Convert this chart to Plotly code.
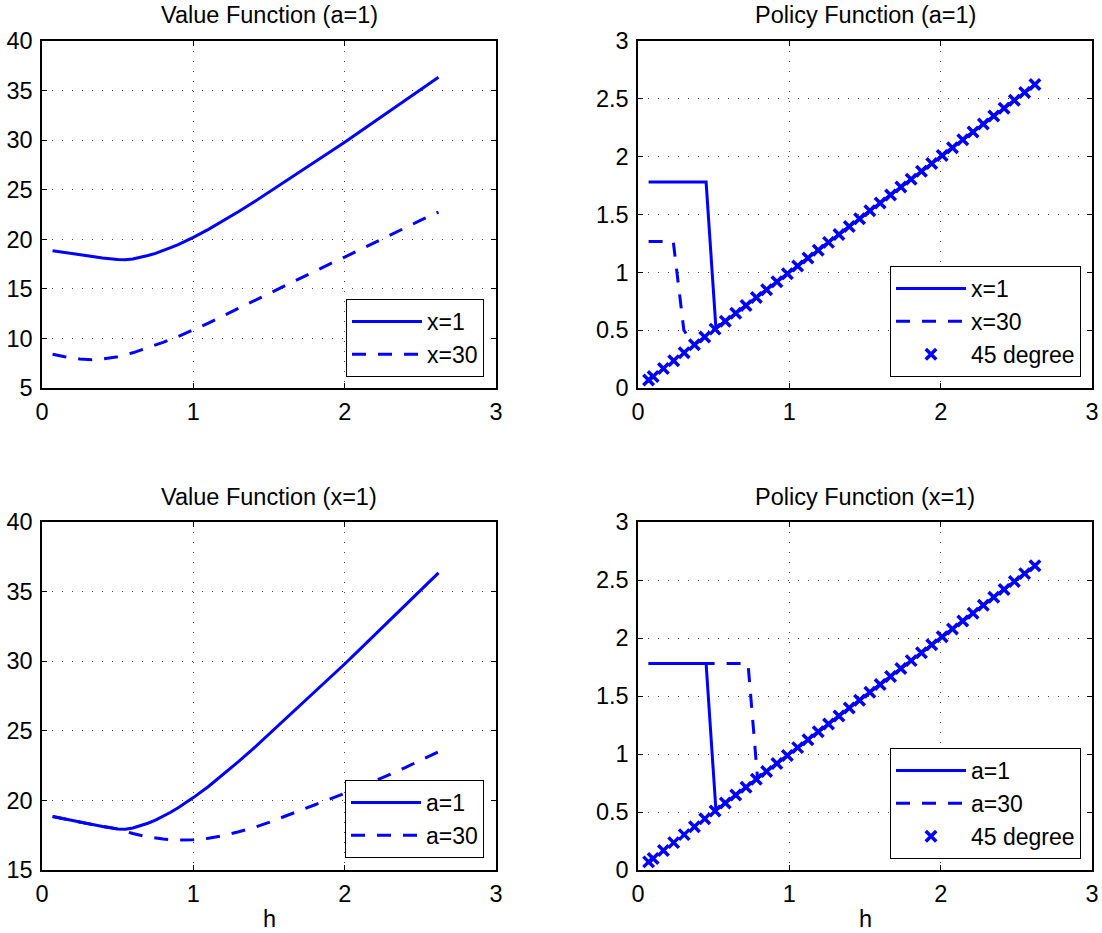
import plotly.graph_objects as go

# ---------------- data ----------------
# Value function, a=1 (x=1 / a=1 are the same series)
h_v1 = [0.07, 0.2, 0.3, 0.4, 0.5, 0.55, 0.6, 0.65, 0.7, 0.75, 0.8, 0.85, 0.9, 0.95,
        1.0, 1.1, 1.2, 1.3, 1.4, 1.5, 1.6, 1.7, 1.8, 1.9, 2.0, 2.1, 2.2, 2.3, 2.4,
        2.5, 2.62]
v_x1 = [18.85, 18.55, 18.33, 18.12, 17.95, 17.93, 18.02, 18.17, 18.36, 18.58, 18.85,
        19.15, 19.47, 19.82, 20.2, 21.0, 21.88, 22.8, 23.75, 24.75, 25.75, 26.75,
        27.78, 28.8, 29.8, 30.85, 31.9, 32.95, 34.0, 35.1, 36.35]

h_v30 = [0.07, 0.15, 0.25, 0.33, 0.4, 0.5, 0.6, 0.7, 0.8, 0.9, 1.0, 1.1, 1.2, 1.3, 1.4,
         1.5, 1.6, 1.7, 1.8, 1.9, 2.0, 2.1, 2.2, 2.3, 2.4, 2.5, 2.62]
v_x30 = [8.4, 8.15, 7.92, 7.85, 7.92, 8.15, 8.55, 9.05, 9.6, 10.2, 10.85, 11.55, 12.3,
         13.05, 13.8, 14.55, 15.3, 16.05, 16.75, 17.5, 18.2, 18.95, 19.7, 20.4, 21.15,
         21.9, 22.75]

h_va30 = [0.07, 0.3, 0.5, 0.6, 0.7, 0.8, 0.9, 1.0, 1.1, 1.2, 1.3, 1.4, 1.5, 1.6, 1.7,
          1.8, 1.9, 2.0, 2.1, 2.2, 2.3, 2.4, 2.5, 2.62]
v_a30 = [18.85, 18.33, 17.95, 17.62, 17.38, 17.22, 17.15, 17.18, 17.28, 17.48, 17.75,
         18.05, 18.42, 18.82, 19.25, 19.67, 20.08, 20.5, 20.95, 21.4, 21.85, 22.35,
         22.88, 23.5]

# Policy functions (polyline vertices)
h_p1 = [0.07, 0.45, 0.515, 2.62]
p_x1 = [1.78, 1.78, 0.515, 2.62]

h_p30 = [0.07, 0.233, 0.303, 0.37, 2.62]
p_x30 = [1.267, 1.267, 0.50, 0.37, 2.62]

h_pa30 = [0.07, 0.727, 0.79, 2.62]
p_a30 = [1.78, 1.78, 0.79, 2.62]

# 45 degree line (grid points)
h_grid = [0.07, 0.100, 0.168, 0.236, 0.305, 0.373, 0.441, 0.509, 0.577, 0.646, 0.714,
          0.782, 0.850, 0.918, 0.987, 1.055, 1.123, 1.191, 1.259, 1.328, 1.396, 1.464,
          1.532, 1.600, 1.669, 1.737, 1.805, 1.873, 1.941, 2.010, 2.078, 2.146, 2.214,
          2.282, 2.351, 2.419, 2.487, 2.555, 2.623]
deg45 = h_grid  # 45 degree line: y equals h

titles = ["Value Function (a=1)", "Policy Function (a=1)",
          "Value Function (x=1)", "Policy Function (x=1)"]
xticks = [0, 1, 2, 3]
yticks_v_top = [5, 10, 15, 20, 25, 30, 35, 40]
yticks_v_bot = [15, 20, 25, 30, 35, 40]
yticks_p = [0, 0.5, 1, 1.5, 2, 2.5, 3]

# ---------------- layout geometry ----------------
W, H = 1102, 933
BLUE = "#0000FF"
FONT = "Liberation Sans, Arial, Helvetica, sans-serif"
FS = 23.5
LFS = 23
DASH = "14px,12px"

def px_x(p):
    return p / W

def px_y(p):
    return 1 - p / H

colL = [px_x(42), px_x(496)]
colR = [px_x(638), px_x(1092)]
rowT = [px_y(388), px_y(41)]
rowB = [px_y(870), px_y(522)]

fig = go.Figure()

def line(x, y, name, dash, xa, ya, leg):
    fig.add_trace(go.Scatter(x=x, y=y, name=name, mode="lines",
                             line=dict(color=BLUE, width=3, dash=dash),
                             xaxis=xa, yaxis=ya, legend=leg))

def marks(x, y, name, xa, ya, leg):
    fig.add_trace(go.Scatter(x=x, y=y, name=name, mode="markers",
                             marker=dict(symbol="x-thin", size=10.5, color=BLUE,
                                         line=dict(color=BLUE, width=3.5)),
                             xaxis=xa, yaxis=ya, legend=leg))

# panel 1
line(h_v1, v_x1, "x=1", "solid", "x", "y", "legend")
line(h_v30, v_x30, "x=30", DASH, "x", "y", "legend")
# panel 2
line(h_p1, p_x1, "x=1", "solid", "x2", "y2", "legend2")
line(h_p30, p_x30, "x=30", DASH, "x2", "y2", "legend2")
marks(h_grid, deg45, "45 degree", "x2", "y2", "legend2")
# panel 3
line(h_v1, v_x1, "a=1", "solid", "x3", "y3", "legend3")
line(h_va30, v_a30, "a=30", DASH, "x3", "y3", "legend3")
# panel 4
line(h_p1, p_x1, "a=1", "solid", "x4", "y4", "legend4")
line(h_pa30, p_a30, "a=30", DASH, "x4", "y4", "legend4")
marks(h_grid, deg45, "45 degree", "x4", "y4", "legend4")

axis_common = dict(showline=True, linecolor="black", linewidth=1.5, mirror="ticks",
                   ticks="inside", ticklen=5, tickwidth=1, tickcolor="black",
                   showgrid=True, gridcolor="#444444", gridwidth=1, griddash="1px,9px",
                   zeroline=False, automargin=False,
                   tickfont=dict(family=FONT, size=FS, color="black"))

def xaxis(dom, anchor):
    return dict(axis_common, domain=dom, anchor=anchor, range=[0, 3],
                tickvals=xticks, ticklabelstandoff=2)

def yaxis(dom, anchor, rng, ticks):
    return dict(axis_common, domain=dom, anchor=anchor, range=rng,
                tickvals=ticks, ticklabelstandoff=3)

legend_common = dict(bgcolor="white", bordercolor="black", borderwidth=1,
                     font=dict(family=FONT, size=LFS, color="black"),
                     xanchor="right", yanchor="bottom", itemwidth=70,
                     tracegroupgap=0)

fig.update_layout(
    width=W, height=H, autosize=False, margin=dict(l=0, r=0, t=0, b=0, pad=0),
    paper_bgcolor="white", plot_bgcolor="white",
    font=dict(family=FONT, size=FS, color="black"),
    xaxis=xaxis(colL, "y"), yaxis=yaxis(rowT, "x", [5, 40], yticks_v_top),
    xaxis2=xaxis(colR, "y2"), yaxis2=yaxis(rowT, "x2", [0, 3], yticks_p),
    xaxis3=xaxis(colL, "y3"), yaxis3=yaxis(rowB, "x3", [15, 40], yticks_v_bot),
    xaxis4=xaxis(colR, "y4"), yaxis4=yaxis(rowB, "x4", [0, 3], yticks_p),
    legend=dict(legend_common, x=px_x(484), y=px_y(377)),
    legend2=dict(legend_common, x=px_x(1081), y=px_y(377)),
    legend3=dict(legend_common, x=px_x(484), y=px_y(858)),
    legend4=dict(legend_common, x=px_x(1081), y=px_y(859)),
)

title_pos = [((42 + 496) / 2, 15.5), ((638 + 1092) / 2, 15.5),
             ((42 + 496) / 2, 496.5), ((638 + 1092) / 2, 496.5)]
for t, (cx, cy) in zip(titles, title_pos):
    fig.add_annotation(text=t, x=px_x(cx), y=px_y(cy), xref="paper", yref="paper",
                       showarrow=False, xanchor="center", yanchor="middle",
                       font=dict(family=FONT, size=FS, color="black"))

for cx in [(42 + 496) / 2, (638 + 1092) / 2]:
    fig.add_annotation(text="h", x=px_x(cx), y=px_y(919), xref="paper", yref="paper",
                       showarrow=False, xanchor="center", yanchor="middle",
                       font=dict(family=FONT, size=FS, color="black"))

fig.write_html("out.html", config={"displayModeBar": False},
               post_script="document.body.style.margin='0';document.body.style.padding='0';")
